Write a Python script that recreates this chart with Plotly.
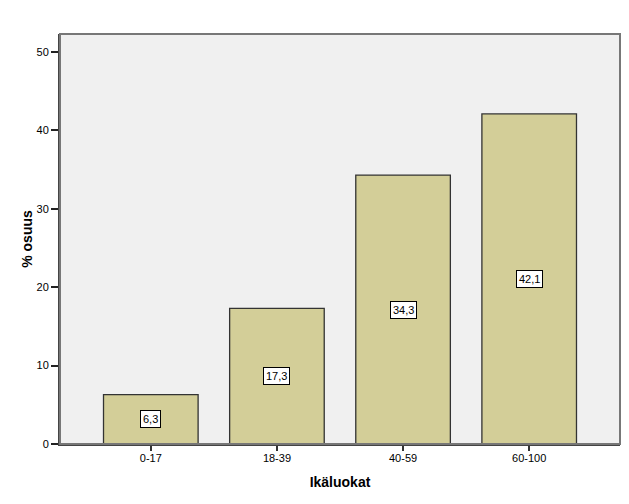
import plotly.graph_objects as go

categories = ["0-17", "18-39", "40-59", "60-100"]
values = [6.3, 17.3, 34.3, 42.1]
labels = ["6,3", "17,3", "34,3", "42,1"]
y_ticks = [0, 10, 20, 30, 40, 50]

fig = go.Figure()
fig.add_trace(go.Bar(
    x=categories, y=values, width=0.75,
    marker=dict(color="#D3CE98", line=dict(color="#333333", width=1.3)),
    hoverinfo="skip",
))
for c, v, t in zip(categories, values, labels):
    fig.add_annotation(x=c, y=v / 2, text=t, showarrow=False,
                       bgcolor="white", bordercolor="black", borderwidth=1, borderpad=2,
                       font=dict(family="Liberation Sans, Arial", size=11, color="black"))

# page body has an 8px default margin; size the figure so the plot area lands where the reference has it
fig.update_layout(
    width=621, height=496,
    margin=dict(l=52, r=9, t=26, b=60),
    paper_bgcolor="white", plot_bgcolor="#F0F0F0",
    showlegend=False,
    font=dict(family="Liberation Sans, Arial", size=11, color="black"),
    xaxis=dict(range=[-0.72, 3.72], showgrid=False, ticks="outside", ticklen=5,
               tickcolor="#333333", tickwidth=2, showline=True, linecolor="#444444",
               linewidth=2, mirror=False, zeroline=False, ticklabelstandoff=-2,
               title=dict(text="<b>Ikäluokat</b>", font=dict(size=14), standoff=14)),
    yaxis=dict(range=[0, 52.3], tickvals=y_ticks, showgrid=False, ticks="outside",
               ticklen=7, tickcolor="#222222", tickwidth=2, showline=True,
               linecolor="#444444", linewidth=2, zeroline=False,
               title=dict(text="<b>% osuus</b>", font=dict(size=14), standoff=1)),
    shapes=[dict(type="rect", xref="paper", yref="paper", x0=0, y0=0, x1=1, y1=1,
                 line=dict(color="#777777", width=2), layer="above")],
)
fig.write_html("out.html")
